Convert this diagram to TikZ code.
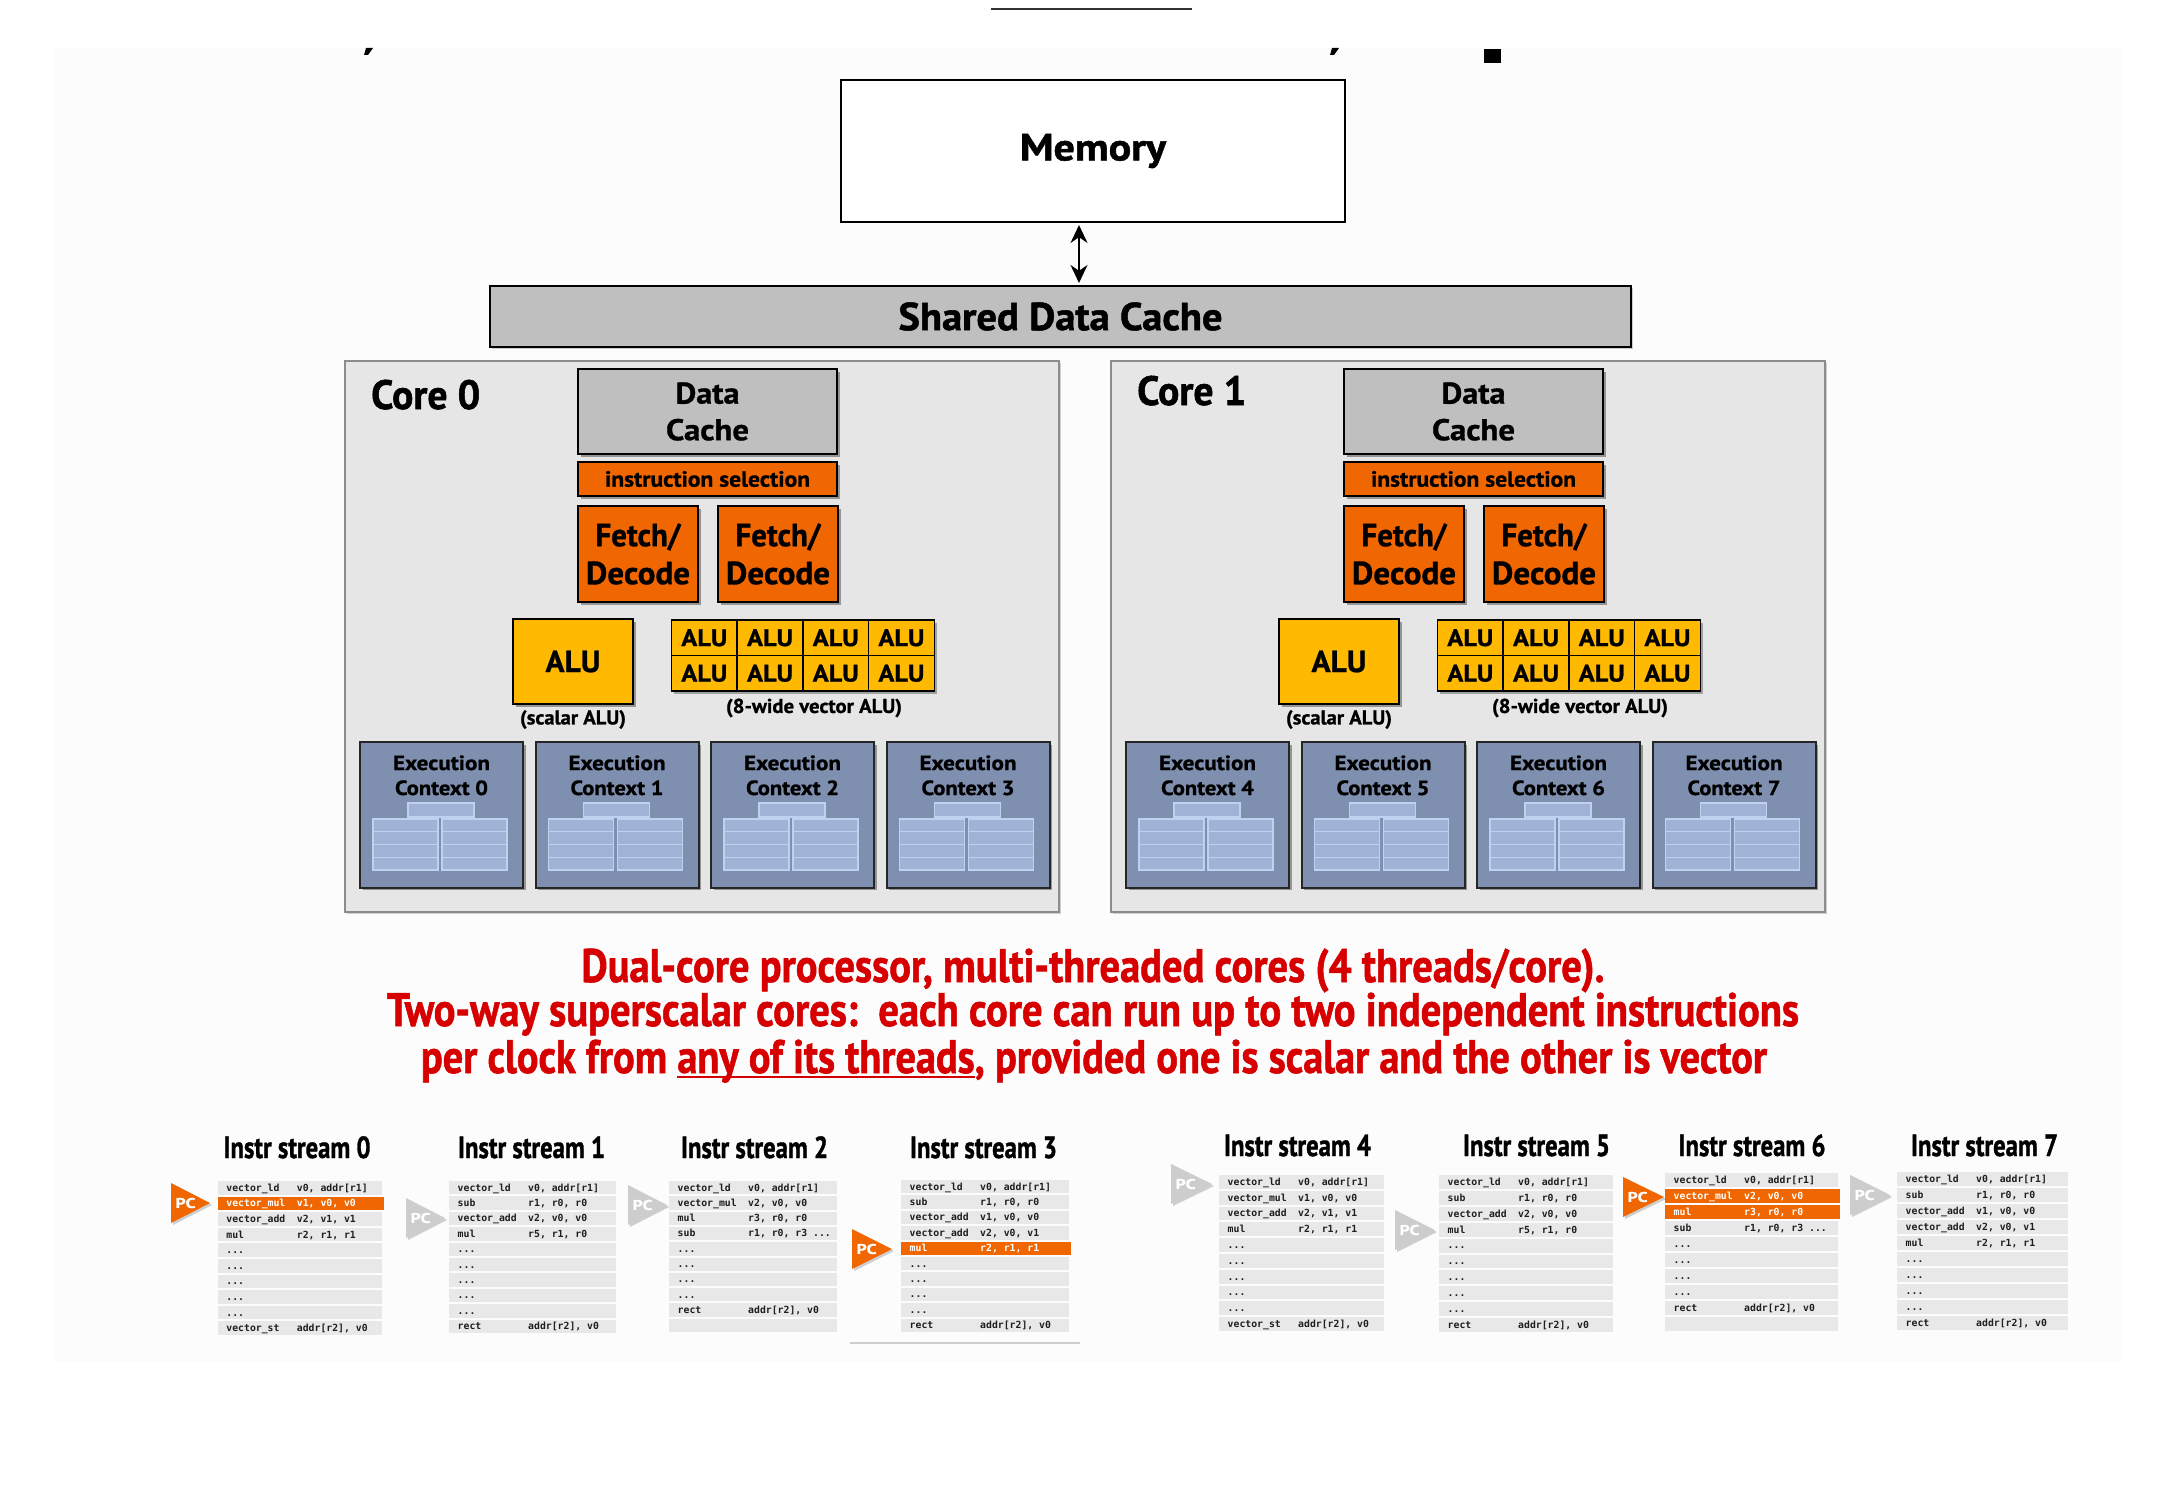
\documentclass[tikz,border=0pt]{standalone}
\usepackage{fontspec}
\setmainfont{PT Sans}[BoldFeatures={FakeBold=0.9}]
\setmonofont{DejaVu Sans Mono}
\newfontfamily\heavyfont{PT Sans}[BoldFeatures={FakeBold=1.3}]
\usepackage{graphicx}
\usetikzlibrary{arrows.meta,shadows}

\definecolor{orng}{RGB}{240,102,0}
\definecolor{alu}{RGB}{255,185,0}
\definecolor{cachegray}{RGB}{191,191,191}
\definecolor{corebg}{RGB}{230,230,230}
\definecolor{coreline}{RGB}{140,140,140}
\definecolor{ectx}{RGB}{127,143,175}
\definecolor{ectxin}{RGB}{160,178,214}
\definecolor{ectxline}{RGB}{192,208,240}
\definecolor{redtxt}{RGB}{214,0,0}
\definecolor{rowgray}{RGB}{232,232,232}
\definecolor{rowtext}{RGB}{30,30,30}
\definecolor{pcgray}{RGB}{205,205,205}
\definecolor{bgfaint}{RGB}{252,252,252}
\definecolor{darkline}{RGB}{50,50,50}
\definecolor{linegray}{RGB}{205,205,205}

\newcommand\fw[2]{\resizebox{#1}{\height}{#2}}
\newcommand\fsz[1]{\fontsize{#1}{#1}\selectfont}
\newcommand\threedots{...}
\newcommand\rowfont{\fontsize{9.8}{10}\selectfont\ttfamily\bfseries}
\newcommand\myul[1]{\setbox0\hbox{#1}\rlap{\rule[-4.8pt]{\wd0}{2.2pt}}\box0}

% core block: #1 xshift, #2 core number, #3 label baseline, #4 first context
\newcommand\coreblock[4]{%
\begin{scope}[xshift=#1]
\node[corebox,shdl] (core#2) at (702,636.5) {};
\node[anchor=base west,inner sep=0pt,font=\fsz{41}\heavyfont\bfseries] (corelbl#2) at (371,#3) {\fw{109pt}{Core #2}};
\node[box,fill=cachegray,shd,minimum width=259pt,minimum height=85pt,align=center,
      font={\fontsize{30}{36.6}\selectfont\bfseries}] (dc#2) at (707.5,411.5) {\fw{64pt}{Data}\\\fw{83pt}{Cache}};
\node[box,fill=orng,shd,minimum width=259pt,minimum height=34pt,font=\fsz{22}\bfseries] (is#2) at (707.5,479) {\fw{205pt}{instruction selection}};
\node[fdbox] (fdA#2) at (638,554) {\fw{85pt}{Fetch/}\\\fw{104pt}{Decode}};
\node[fdbox] (fdB#2) at (778,554) {\fw{85pt}{Fetch/}\\\fw{104pt}{Decode}};
\node[box,fill=alu,shd,minimum width=120pt,minimum height=85pt,font=\fsz{30.6}\bfseries] (salu#2) at (573,661.5) {\fw{55pt}{ALU}};
\fill[black,opacity=0.3] (674,623) rectangle (937,694);
\foreach \r in {0,1}{\foreach \c in {0,1,2,3}{
  \node[alucell] (va#2-\r-\c) at ({671.5+65.7*(\c+0.5)},{620+35.5*(\r+0.5)}) {\fw{46pt}{ALU}};}}
\node[smalllbl] (sl#2) at (573,719.5) {\fw{106pt}{(scalar ALU)}};
\node[smalllbl] (vl#2) at (814,708) {\fw{176pt}{(8-wide vector ALU)}};
\foreach \i in {0,1,2,3}{
  \pgfmathsetmacro\ecx{441.5+175.5*\i}
  \pgfmathtruncatemacro\ctx{#4+\i}
  \node[ecbox,shd] (ec\ctx) at (\ecx,815) {};
  \node[ectext] (ecA\ctx) at (\ecx,770) {\fw{97pt}{Execution}};
  \node[ectext] (ecB\ctx) at (\ecx,795) {\fw{93pt}{Context \ctx}};
  \draw[ecin] (\ecx-33.5,803) rectangle (\ecx+32.5,817);
  \foreach \rr in {0,1,2,3}{
    \draw[ecin] (\ecx-68.5,{819+12.75*\rr}) rectangle (\ecx-3.5,{831.75+12.75*\rr});
    \draw[ecin] (\ecx+0.5,{819+12.75*\rr}) rectangle (\ecx+65.5,{831.75+12.75*\rr});
  }
}
\end{scope}}

% stream table: #1 name, #2 x, #3 top, #4 width, #5 pitch, #6 rows
\newcommand\stable[6]{%
\foreach[count=\k] \m/\o/\h in #6 {
  \ifnum\h=1 \def\rf{orng}\def\tc{white}\def\xe{2}\else\def\rf{rowgray}\def\tc{rowtext}\def\xe{0}\fi
  \fill[\rf] (#2,{#3+(\k-1)*#5}) rectangle ({#2+#4+\xe},{#3+\k*#5-2});
  \node[rowtxt,text=\tc] (#1m\k) at ({#2+8.5},{#3+(\k-1)*#5+(#5-2)/2+3.4}) {\m};
  \node[rowtxt,text=\tc] (#1o\k) at ({#2+79},{#3+(\k-1)*#5+(#5-2)/2+3.4}) {\o};
}}

% PC arrow: #1 name, #2 left, #3 tip, #4 yc, #5 colour
\newcommand\pcarrow[5]{%
\fill[#5,shdl] (#2,#4-20) -- (#3,#4) -- (#2,#4+20) -- cycle;
\node[pctext] (#1) at (#2+14.5,#4) {\fw{20pt}{PC}};
}

\def\rowsA{vector\_ld/{v0, addr[r1]}/0,vector\_mul/{v1, v0, v0}/1,vector\_add/{v2, v1, v1}/0,mul/{r2, r1, r1}/0,\threedots/{}/0,\threedots/{}/0,\threedots/{}/0,\threedots/{}/0,\threedots/{}/0,vector\_st/{addr[r2], v0}/0}
\def\rowsAn{vector\_ld/{v0, addr[r1]}/0,vector\_mul/{v1, v0, v0}/0,vector\_add/{v2, v1, v1}/0,mul/{r2, r1, r1}/0,\threedots/{}/0,\threedots/{}/0,\threedots/{}/0,\threedots/{}/0,\threedots/{}/0,vector\_st/{addr[r2], v0}/0}
\def\rowsB{vector\_ld/{v0, addr[r1]}/0,sub/{r1, r0, r0}/0,vector\_add/{v2, v0, v0}/0,mul/{r5, r1, r0}/0,\threedots/{}/0,\threedots/{}/0,\threedots/{}/0,\threedots/{}/0,\threedots/{}/0,rect/{addr[r2], v0}/0}
\def\rowsC{vector\_ld/{v0, addr[r1]}/0,vector\_mul/{v2, v0, v0}/0,mul/{r3, r0, r0}/0,sub/{r1, r0, r3 \threedots}/0,\threedots/{}/0,\threedots/{}/0,\threedots/{}/0,\threedots/{}/0,rect/{addr[r2], v0}/0,{}/{}/0}
\def\rowsCh{vector\_ld/{v0, addr[r1]}/0,vector\_mul/{v2, v0, v0}/1,mul/{r3, r0, r0}/1,sub/{r1, r0, r3 \threedots}/0,\threedots/{}/0,\threedots/{}/0,\threedots/{}/0,\threedots/{}/0,rect/{addr[r2], v0}/0,{}/{}/0}
\def\rowsD{vector\_ld/{v0, addr[r1]}/0,sub/{r1, r0, r0}/0,vector\_add/{v1, v0, v0}/0,vector\_add/{v2, v0, v1}/0,mul/{r2, r1, r1}/1,\threedots/{}/0,\threedots/{}/0,\threedots/{}/0,\threedots/{}/0,rect/{addr[r2], v0}/0}
\def\rowsDn{vector\_ld/{v0, addr[r1]}/0,sub/{r1, r0, r0}/0,vector\_add/{v1, v0, v0}/0,vector\_add/{v2, v0, v1}/0,mul/{r2, r1, r1}/0,\threedots/{}/0,\threedots/{}/0,\threedots/{}/0,\threedots/{}/0,rect/{addr[r2], v0}/0}

\begin{document}
\begin{tikzpicture}[x=1pt,y=-1pt,
  box/.style={draw=black,line width=2pt,inner sep=0pt,outer sep=0pt},
  shd/.style={drop shadow={shadow xshift=2.5pt,shadow yshift=-2.5pt,opacity=0.35,fill=black}},
  shdl/.style={drop shadow={shadow xshift=2pt,shadow yshift=-2pt,opacity=0.18,fill=black}},
  corebox/.style={draw=coreline,fill=corebg,line width=2pt,minimum width=714pt,minimum height=551pt,inner sep=0pt},
  fdbox/.style={box,fill=orng,shd,minimum width=120pt,minimum height=96pt,align=center,font={\fontsize{32}{38}\selectfont\bfseries}},
  alucell/.style={draw=black,line width=1.6pt,fill=alu,minimum width=65.7pt,minimum height=35.5pt,inner sep=0pt,font=\fsz{24}\bfseries},
  smalllbl/.style={inner sep=0pt,font=\fsz{20}\bfseries},
  ecbox/.style={draw=black!85,line width=2pt,fill=ectx,minimum width=163pt,minimum height=145.4pt,inner sep=0pt},
  ectext/.style={anchor=base,inner sep=0pt,font=\fsz{20.5}\bfseries},
  ecin/.style={fill=ectxin,draw=ectxline,line width=1.2pt},
  redline/.style={anchor=base,inner sep=0pt,text=redtxt,font=\fsz{47}\heavyfont\bfseries},
  sttitle/.style={anchor=base,inner sep=0pt,font=\fsz{30.5}\heavyfont\bfseries},
  rowtxt/.style={anchor=base west,inner sep=0pt,font=\rowfont},
  pctext/.style={inner sep=0pt,text=white,font=\fsz{14}\bfseries},
  arr/.style={{Stealth[length=18pt,width=17pt]}-{Stealth[length=18pt,width=17pt]},line width=2pt,shorten <=3pt,shorten >=3pt}]

\fill[white] (0,0) rectangle (2180,1498);
\useasboundingbox (0,0) rectangle (2180,1498);
\fill[bgfaint] (55,48) rectangle (2122,1362);

% remnants at the top
\draw[line width=1.6pt,darkline] (991,9) -- (1192,9);
\fill[black] (366,48) -- (373,48) -- (368,55) -- (364,55) -- cycle;
\fill[black] (1332,48) -- (1339,48) -- (1334,55) -- (1330,55) -- cycle;
\fill[black] (1484,49) rectangle (1501,63);

% memory and shared cache
\node[box,fill=white,minimum width=504pt,minimum height=142pt,font=\fsz{38}\heavyfont\bfseries] (mem) at (1093,151) {\fw{146pt}{Memory}};
\node[box,fill=cachegray,shdl,minimum width=1141pt,minimum height=61pt,font=\fsz{39}\heavyfont\bfseries] (shared) at (1060.5,316.5) {\fw{324pt}{Shared Data Cache}};
\coordinate (ax) at (1079,254);
\draw[arr] (mem.south -| ax) -- (shared.north -| ax);

% cores
\coreblock{0pt}{0}{409}{0}
\coreblock{766pt}{1}{405}{4}

% red text
\node[redline] (rl1) at (1093,982) {\fw{1023pt}{Dual-core processor, multi-threaded cores (4 threads/core).}};
\node[redline] (rl2) at (1093,1026) {\fw{1412pt}{Two-way superscalar cores:\ \ each core can run up to two independent instructions}};
\node[redline] (rl3) at (1094,1073) {\fw{1346pt}{per clock from \myul{any of its threads}, provided one is scalar and the other is vector}};

% instruction streams
\foreach \nm/\cx/\by in {0/297/1158,1/531.5/1158,2/754.5/1158,3/983.5/1158,4/1297.5/1156,5/1536.5/1156,6/1752/1156,7/1984.5/1156}
  \node[sttitle] (st\nm) at (\cx,\by) {\fw{147pt}{Instr stream \nm}};

\stable{SA}{217.7}{1181}{164}{15.6}{\rowsA}
\stable{SB}{449}{1181}{167}{15.4}{\rowsB}
\stable{SC}{669}{1181}{168}{15.3}{\rowsC}
\stable{SD}{901}{1180}{168}{15.4}{\rowsD}
\stable{SE}{1219}{1175}{165}{15.8}{\rowsAn}
\stable{SF}{1439}{1175}{174}{15.9}{\rowsB}
\stable{SG}{1665}{1173}{173}{16}{\rowsCh}
\stable{SH}{1897}{1172}{171}{16}{\rowsDn}
\draw[line width=2pt,linegray] (850,1343) -- (1080,1343);

\pcarrow{pc0}{171}{210}{1203}{orng}
\pcarrow{pc1}{406}{445}{1218}{pcgray}
\pcarrow{pc2}{628}{667}{1205}{pcgray}
\pcarrow{pc3}{852}{892}{1249}{orng}
\pcarrow{pc4}{1171}{1212}{1184}{pcgray}
\pcarrow{pc5}{1395}{1435}{1230}{pcgray}
\pcarrow{pc6}{1623}{1664}{1197}{orng}
\pcarrow{pc7}{1850}{1890}{1195}{pcgray}
\end{tikzpicture}
\end{document}
